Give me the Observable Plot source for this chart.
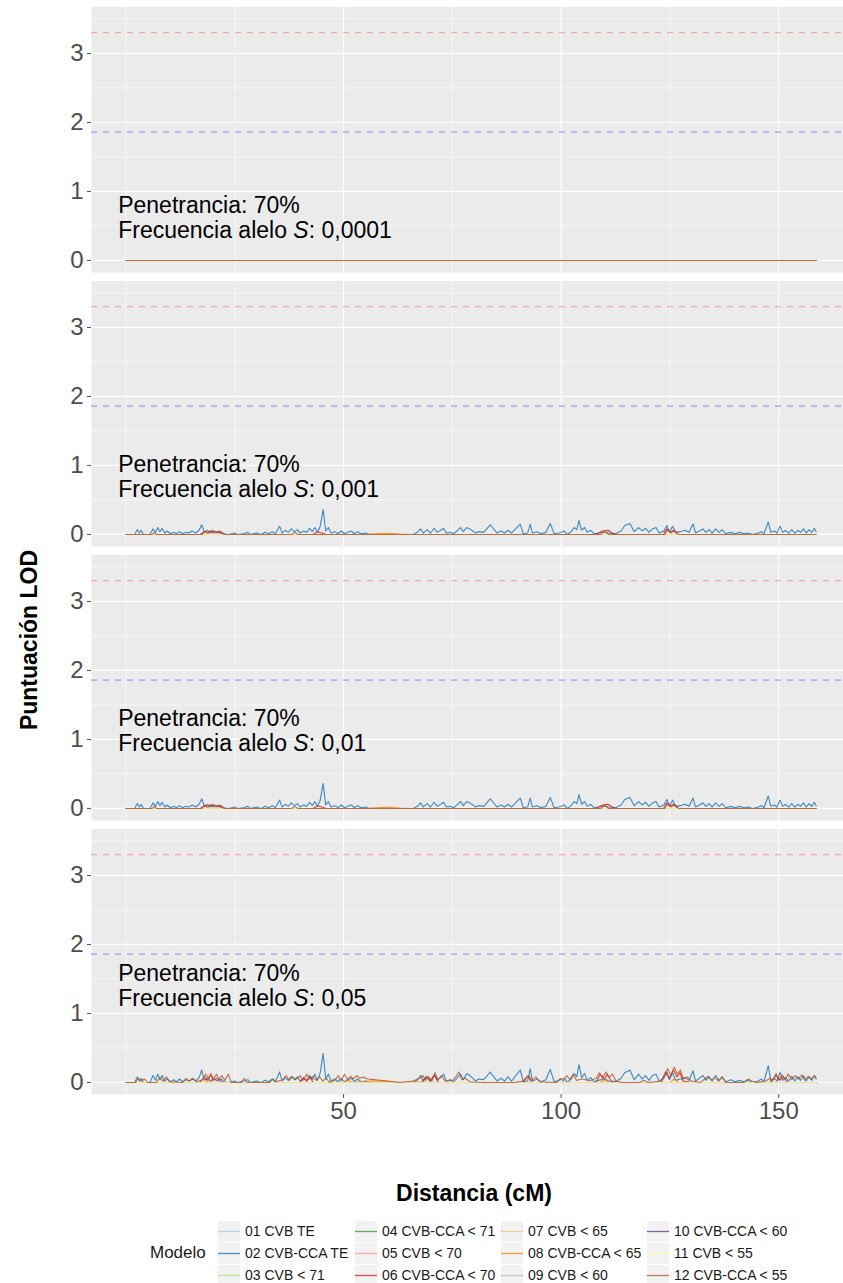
<!DOCTYPE html>
<html>
<head>
<meta charset="utf-8">
<script src="https://cdn.jsdelivr.net/npm/d3@7"></script>
<script src="https://cdn.jsdelivr.net/npm/@observablehq/plot@0.6"></script>
<style>
  html, body { margin: 0; padding: 0; background: #ffffff; }
  #chart { position: relative; width: 843px; height: 1283px; overflow: hidden;
           font-family: "Liberation Sans", Arial, Helvetica, sans-serif; }
  #chart > svg { position: absolute; left: 0; overflow: hidden; }
  .titulo-eje { position: absolute; font-weight: bold; font-size: 23px; color: #000; white-space: nowrap; }
  .leyenda-item { position: absolute; font-size: 14px; line-height: 16px; color: #1a1a1a; white-space: nowrap; }
  .leyenda-clave { position: absolute; width: 22px; height: 21px; }
</style>
</head>
<body>
<div id="chart"></div>
<script>
// Genetic-linkage scan: LOD score along the map (cM) for 12 classification models,
// one panel per frequency of allele S (penetrance 70%).

const modelos = [
  "01 CVB TE", "02 CVB-CCA TE", "03 CVB < 71", "04 CVB-CCA < 71",
  "05 CVB < 70", "06 CVB-CCA < 70", "07 CVB < 65", "08 CVB-CCA < 65",
  "09 CVB < 60", "10 CVB-CCA < 60", "11 CVB < 55", "12 CVB-CCA < 55"
];
const colores = [
  "#A6CEE3", "#1F78B4", "#B2DF8A", "#33A02C", "#FB9A99", "#E31A1C",
  "#FDBF6F", "#FF7F00", "#CAB2D6", "#6A3D9A", "#FFFF99", "#B15928"
];

const frecuencias = ["0,0001", "0,001", "0,01", "0,05"];
const penetrancia = "70%";

// Thresholds: suggestive and significant linkage
const umbralSugerido = 1.86;
const umbralSignificativo = 3.3;

const ticksLOD = [0, 1, 2, 3];
const ticksDistancia = [50, 100, 150];

// Models with no signal: LOD 0 from the first to the last marker
const sinSenal = [[0, 0], [158.6, 0]];

// [cM, LOD] — allele S frequency 0.001 (same profile at 0.01)
const lod02_001 = [[0,0],[2,0],[2.6,0.07],[3.1,0.02],[3.5,0.06],[4,0],[5.5,0],[6.2,0.08],[6.8,0.03],[7.3,0.1],[7.8,0.04],[8.3,0.09],[8.9,0.02],[9.5,0.05],[10.2,0.01],[11,0.03],[11.6,0.01],[12.3,0.04],[13,0.01],[13.8,0.03],[14.5,0.02],[15.2,0.05],[16,0.02],[16.8,0.06],[17.4,0.14],[18,0.03],[18.8,0.06],[19.5,0.02],[20.3,0.05],[21,0.02],[21.8,0.04],[22.5,0.01],[23.5,0],[25,0.02],[25.6,0],[27,0.01],[28,0.03],[28.6,0],[30,0.02],[31,0],[32,0.03],[32.8,0.01],[33.6,0.04],[34.3,0.01],[35.3,0.12],[35.9,0.02],[36.6,0.06],[37.3,0.03],[38,0.08],[38.7,0.04],[39.4,0.07],[40,0.02],[40.8,0.05],[41.5,0.03],[42.2,0.09],[42.8,0.04],[43.4,0.1],[44,0.03],[44.6,0.11],[45.3,0.36],[45.9,0.05],[46.5,0.1],[47.1,0.02],[48,0.04],[48.7,0.01],[49.5,0.05],[50.2,0.01],[51,0.03],[51.8,0.05],[52.5,0.01],[53.2,0.04],[54,0.01],[55,0.02],[56,0],[63,0],[66,0],[67,0.03],[67.7,0.08],[68.3,0.02],[69.2,0.07],[70,0.02],[70.8,0.09],[71.5,0.03],[72.3,0.06],[73,0.09],[73.6,0.02],[74.5,0.03],[75.3,0.01],[76.2,0.06],[76.9,0.1],[77.5,0.04],[78.3,0.1],[79,0.08],[79.7,0.05],[80.4,0.02],[81,0.04],[82.2,0.03],[83.7,0.14],[85.3,0.02],[86.2,0.05],[87,0.02],[87.8,0.06],[88.6,0.02],[90.6,0.15],[91.3,0.01],[92.3,0.02],[92.9,0.15],[93.4,0.02],[94.5,0.04],[95.3,0.01],[96.5,0.03],[97.5,0.16],[98.4,0.01],[99.5,0.02],[100.7,0.05],[101.4,0],[102.3,0.04],[103,0.1],[103.6,0.07],[104.1,0.2],[104.7,0.06],[105.4,0.1],[106,0.03],[106.8,0.06],[107.5,0.01],[108.5,0.02],[110,0.04],[111,0.02],[112.5,0.01],[113.8,0.05],[114.6,0.13],[115.8,0.16],[116.8,0.04],[117.8,0.1],[118.6,0.05],[119.4,0.09],[120.2,0.03],[121,0.08],[121.8,0.1],[122.5,0.02],[123.6,0.05],[124.3,0.13],[124.9,0.04],[125.6,0.12],[126.3,0.03],[127.4,0.04],[128.5,0.06],[129.4,0.03],[130.3,0.15],[130.9,0.02],[131.8,0.05],[132.6,0.08],[133.3,0.03],[134,0.07],[134.7,0.02],[135.5,0.08],[136.3,0.03],[137,0.07],[137.8,0.01],[139,0.03],[140,0.01],[141,0.03],[142,0.01],[143,0.02],[144,0],[145.3,0.02],[146,0.04],[146.6,0.01],[147.6,0.18],[148.2,0.03],[149,0.05],[149.6,0.02],[150.3,0.12],[150.9,0.03],[151.6,0.06],[152.3,0.02],[153,0.07],[153.7,0.02],[154.4,0.06],[155,0.03],[155.7,0.08],[156.3,0.02],[157,0.07],[157.6,0.03],[158.2,0.09],[158.6,0.04]];
const lod06_001 = [[0,0],[17,0],[18,0.04],[18.7,0.02],[19.4,0.05],[20.2,0.02],[21,0.04],[22,0.01],[23,0],[43,0],[44,0.04],[45,0.02],[46,0],[108,0],[109.5,0.05],[110.8,0.06],[112,0.01],[113,0],[123.5,0],[124.3,0.08],[125,0.03],[125.8,0.06],[126.8,0],[158.6,0]];
const lod08_001 = [[0,0],[55,0],[57,0.01],[60,0.015],[63,0.005],[66,0],[158.6,0]];
const lod12_001 = [[0,0],[6,0],[6.5,0.03],[7,0],[17.5,0],[18.2,0.05],[19,0.02],[19.8,0.06],[20.5,0.03],[21.5,0.05],[22.5,0],[38,0],[38.8,0.03],[39.5,0],[109,0],[110,0.04],[111,0],[123.8,0],[124.5,0.07],[125.3,0.02],[126.1,0.06],[127,0],[158.6,0]];

// [cM, LOD] — allele S frequency 0.05
const lod02_05 = [[0,0],[2,0],[2.6,0.08],[3.1,0.02],[3.5,0.06],[4,0],[5.5,0],[6.2,0.1],[6.8,0.03],[7.3,0.12],[7.8,0.04],[8.3,0.1],[8.9,0.02],[9.5,0.05],[10.2,0.01],[11,0.04],[11.6,0.01],[12.3,0.05],[13,0.01],[13.8,0.04],[14.5,0.02],[15.2,0.06],[16,0.02],[16.8,0.07],[17.4,0.18],[18,0.03],[18.8,0.07],[19.5,0.02],[20.3,0.06],[21,0.02],[21.8,0.05],[22.5,0.01],[23.5,0],[25,0.02],[25.6,0],[27,0.02],[28,0.04],[28.6,0],[30,0.02],[31,0],[32,0.03],[32.8,0.01],[33.6,0.05],[34.3,0.01],[35.3,0.15],[35.9,0.02],[36.6,0.07],[37.3,0.03],[38,0.09],[38.7,0.04],[39.4,0.08],[40,0.02],[40.8,0.06],[41.5,0.03],[42.2,0.1],[42.8,0.04],[43.4,0.12],[44,0.03],[44.6,0.13],[45.3,0.42],[45.9,0.05],[46.5,0.12],[47.1,0.02],[48,0.05],[48.7,0.01],[49.5,0.06],[50.2,0.01],[51,0.04],[51.8,0.06],[52.5,0.01],[53.2,0.05],[54,0.01],[55,0.02],[56,0],[63,0],[66,0],[67,0.04],[67.7,0.1],[68.3,0.02],[69.2,0.08],[70,0.02],[70.8,0.11],[71.5,0.03],[72.3,0.07],[73,0.12],[73.6,0.02],[74.5,0.04],[75.3,0.01],[76.2,0.07],[76.9,0.12],[77.5,0.04],[78.3,0.13],[79,0.1],[79.7,0.06],[80.4,0.02],[81,0.05],[82.2,0.04],[83.7,0.15],[85.3,0.02],[86.2,0.06],[87,0.02],[87.8,0.08],[88.6,0.02],[90.6,0.18],[91.3,0.01],[92.3,0.02],[92.9,0.2],[93.4,0.02],[94.5,0.05],[95.3,0.01],[96.5,0.04],[97.5,0.19],[98.4,0.01],[99.5,0.03],[100.7,0.06],[101.4,0],[102.3,0.05],[103,0.13],[103.6,0.08],[104.1,0.26],[104.7,0.07],[105.4,0.13],[106,0.03],[106.8,0.07],[107.5,0.01],[108.5,0.03],[110,0.05],[111,0.02],[112.5,0.01],[113.8,0.06],[114.6,0.14],[115.8,0.18],[116.8,0.04],[117.8,0.12],[118.6,0.05],[119.4,0.1],[120.2,0.03],[121,0.1],[121.8,0.12],[122.5,0.02],[123.6,0.06],[124.3,0.15],[124.9,0.04],[125.6,0.14],[126.3,0.03],[127.4,0.05],[128.5,0.07],[129.4,0.03],[130.3,0.17],[130.9,0.02],[131.8,0.06],[132.6,0.1],[133.3,0.03],[134,0.08],[134.7,0.02],[135.5,0.1],[136.3,0.03],[137,0.08],[137.8,0.01],[139,0.04],[140,0.01],[141,0.03],[142,0.01],[143,0.03],[144,0],[145.3,0.02],[146,0.05],[146.6,0.01],[147.6,0.24],[148.2,0.03],[149,0.06],[149.6,0.02],[150.3,0.15],[150.9,0.03],[151.6,0.07],[152.3,0.02],[153,0.09],[153.7,0.02],[154.4,0.08],[155,0.03],[155.7,0.1],[156.3,0.02],[157,0.08],[157.6,0.03],[158.2,0.1],[158.6,0.05]];
const lod06_05 = [[0,0],[17,0],[18,0.08],[18.7,0.03],[19.4,0.1],[20.2,0.03],[21,0.06],[22,0],[40,0],[40.8,0.07],[41.5,0.02],[42.3,0.08],[43,0],[68,0],[69,0.09],[69.8,0.02],[71,0.1],[71.8,0],[91,0],[92.4,0.1],[93.2,0],[108,0],[109,0.12],[110,0.05],[110.6,0.12],[111.5,0.02],[113,0],[123,0],[124,0.15],[124.8,0.06],[125.8,0.18],[126.6,0.08],[127.3,0.14],[128,0.02],[130,0],[148,0],[149.4,0.1],[150.2,0.03],[151,0.08],[152,0],[158.6,0]];
const lod08_05 = [[0,0],[18,0],[19,0.03],[20,0],[50,0],[51,0.03],[52,0],[56,0.02],[60,0.015],[63,0],[66,0.01],[70,0],[109,0],[110,0.04],[111,0],[125,0],[126,0.05],[127,0],[158.6,0]];
const lod12_05 = [[0,0],[2.2,0],[2.8,0.06],[3.4,0.02],[4.2,0.05],[5,0],[7,0],[7.8,0.07],[8.5,0.02],[9.3,0.08],[10,0.01],[13,0],[13.8,0.06],[14.5,0.02],[15.5,0.05],[16.3,0.01],[17.6,0.04],[18.3,0.12],[18.9,0.06],[19.5,0.13],[20.1,0.05],[20.8,0.12],[21.4,0.04],[22,0.1],[22.7,0.03],[23.5,0.12],[24.2,0],[26.5,0],[27.2,0.06],[27.8,0],[33,0],[33.8,0.05],[34.4,0.01],[36,0.04],[36.8,0.1],[37.5,0.03],[38.2,0.08],[39,0.04],[40,0.1],[40.7,0.03],[41.5,0.12],[42.2,0.05],[43,0.09],[43.7,0.03],[44.5,0.08],[45.2,0.02],[46,0.06],[46.8,0],[48,0.03],[48.8,0.1],[49.4,0.02],[50.2,0.12],[50.9,0.04],[51.6,0.09],[52.3,0.05],[53,0.1],[53.7,0.06],[54.5,0.08],[55.5,0.05],[57,0.04],[60,0.02],[63,0],[66,0.02],[67.5,0.06],[68.2,0.1],[68.8,0.03],[69.6,0.08],[70.3,0.02],[71,0.14],[71.7,0.04],[72.5,0.1],[73.3,0.02],[75,0.03],[75.8,0.08],[76.5,0.15],[77.2,0.04],[78,0.06],[79,0.01],[82,0],[89,0],[91.5,0.02],[92.5,0.1],[93.2,0.03],[94.2,0.08],[95,0.01],[99,0],[99.8,0.06],[100.5,0.02],[101.3,0.1],[102,0.04],[102.8,0.12],[103.5,0.03],[105,0.05],[106.5,0.02],[108,0.06],[108.8,0.14],[109.5,0.06],[110.3,0.15],[111,0.07],[111.8,0.12],[112.6,0.02],[114,0],[118,0],[119,0.03],[120,0],[123,0.02],[123.8,0.12],[124.5,0.2],[125.2,0.1],[126,0.22],[126.7,0.12],[127.4,0.18],[128.1,0.05],[129,0.08],[130,0.02],[132,0],[133,0.05],[133.8,0.09],[134.5,0.03],[135.3,0.07],[136.2,0.02],[137,0.08],[137.8,0],[142,0],[143,0.05],[143.8,0.02],[145,0],[147,0.02],[148,0.06],[148.6,0.02],[149.4,0.13],[150,0.04],[150.8,0.11],[151.5,0.05],[152.2,0.12],[153,0.04],[153.8,0.1],[154.5,0.05],[155.3,0.11],[156,0.03],[156.8,0.09],[157.5,0.05],[158.2,0.1],[158.6,0.06]];

// Series per panel, keyed by model index (0-based); models not listed have no signal
const seriesPorPanel = [
  {},
  {1: lod02_001, 5: lod06_001, 7: lod08_001, 11: lod12_001},
  {1: lod02_001, 5: lod06_001, 7: lod08_001, 11: lod12_001},
  {1: lod02_05, 5: lod06_05, 7: lod08_05, 11: lod12_05}
];

// ---- layout ----
const ancho = 843;
const altoPanel = 274;
const yTexto = [[0.80, 0.43], [1.01, 0.65], [1.30, 0.94], [1.58, 1.22]];
const fuente = '"Liberation Sans", Arial, Helvetica, sans-serif';
const NS = "http://www.w3.org/2000/svg";

const chart = document.getElementById("chart");

frecuencias.forEach((frec, i) => {
  const ultimo = i === frecuencias.length - 1;
  const alto = ultimo ? 330 : altoPanel;

  const filas = [];
  modelos.forEach((m, k) => {
    const serie = seriesPorPanel[i][k] || sinSenal;
    for (const [cM, lod] of serie) filas.push({modelo: m, cM, lod});
  });

  const textos = [
    {t: `Penetrancia: ${penetrancia}`, y: yTexto[i][0]},
    {t: `Frecuencia alelo S: ${frec}`, y: yTexto[i][1]}
  ];

  const svg = Plot.plot({
    width: ancho,
    height: alto,
    marginLeft: 91,
    marginRight: 0,
    marginTop: 6.4,
    marginBottom: alto - 272,
    style: {fontFamily: fuente, color: "#4D4D4D", background: "transparent"},
    x: {domain: [-7.93, 166.5], range: [91, 850], axis: ultimo ? undefined : null},
    y: {domain: [-0.175, 3.675]},
    color: {domain: modelos, range: colores},
    marks: [
      Plot.frame({fill: "#EBEBEB", stroke: null}),
      Plot.ruleY([0.5, 1.5, 2.5, 3.5], {stroke: "#fff", strokeWidth: 0.6}),
      Plot.ruleX([0, 25, 75, 125], {stroke: "#fff", strokeWidth: 0.6}),
      Plot.ruleY(ticksLOD, {stroke: "#fff", strokeWidth: 1.2}),
      Plot.ruleX(ticksDistancia, {stroke: "#fff", strokeWidth: 1.2}),
      Plot.ruleY([umbralSignificativo], {stroke: "#ff0000", strokeOpacity: 0.35, strokeWidth: 1.1, strokeDasharray: "6,6"}),
      Plot.ruleY([umbralSugerido], {stroke: "#0000ff", strokeOpacity: 0.35, strokeWidth: 1.1, strokeDasharray: "6,6"}),
      Plot.line(filas, {x: "cM", y: "lod", z: "modelo", stroke: "modelo", strokeWidth: 1.1, strokeOpacity: 0.85}),
      Plot.text(textos, {x: -1.8, y: "y", text: "t", textAnchor: "start", fontSize: 23, fill: "#000"}),
      Plot.axisY(ticksLOD, {tickSize: 4, tickPadding: 4, fontSize: 24, label: null, tickFormat: d3.format("d")}),
      ...(ultimo ? [Plot.axisX(ticksDistancia, {tickSize: 4, tickPadding: 3, fontSize: 24, label: null, tickFormat: d3.format("d")})] : [])
    ]
  });

  // italic allele name
  svg.querySelectorAll("text").forEach(el => {
    const s = el.textContent;
    if (s.startsWith("Frecuencia alelo S")) {
      el.textContent = "";
      const parts = [["Frecuencia alelo ", null], ["S", "italic"], [s.slice("Frecuencia alelo S".length), null]];
      for (const [txt, st] of parts) {
        const ts = document.createElementNS(NS, "tspan");
        if (st) ts.setAttribute("font-style", st);
        ts.textContent = txt;
        el.appendChild(ts);
      }
    }
  });

  svg.style.top = `${i * altoPanel}px`;
  chart.appendChild(svg);
});

// axis titles
const tituloY = document.createElement("div");
tituloY.className = "titulo-eje";
tituloY.textContent = "Puntuación LOD";
Object.assign(tituloY.style, {left: "29px", top: "640px", transform: "translate(-50%, -50%) rotate(-90deg)"});
chart.appendChild(tituloY);

const tituloX = document.createElement("div");
tituloX.className = "titulo-eje";
tituloX.textContent = "Distancia (cM)";
Object.assign(tituloX.style, {left: "474px", top: "1193px", transform: "translate(-50%, -50%)"});
chart.appendChild(tituloX);

// legend: 3 rows x 4 columns, filled by column
const tituloLeyenda = document.createElement("div");
tituloLeyenda.className = "leyenda-item";
tituloLeyenda.textContent = "Modelo";
Object.assign(tituloLeyenda.style, {left: "150px", top: "1253px", fontSize: "17px", lineHeight: "20px", transform: "translate(0, -50%)"});
chart.appendChild(tituloLeyenda);

const colX = [218, 355, 501, 647];
const filaY = [1231, 1253, 1275];
modelos.forEach((m, k) => {
  const c = Math.floor(k / 3), r = k % 3;
  const clave = document.createElementNS(NS, "svg");
  clave.setAttribute("class", "leyenda-clave");
  clave.setAttribute("width", 22);
  clave.setAttribute("height", 21);
  Object.assign(clave.style, {left: `${colX[c]}px`, top: `${filaY[r] - 10}px`});
  const fondo = document.createElementNS(NS, "rect");
  fondo.setAttribute("width", 22);
  fondo.setAttribute("height", 21);
  fondo.setAttribute("fill", "#f2f2f2");
  const linea = document.createElementNS(NS, "line");
  linea.setAttribute("x1", 0); linea.setAttribute("x2", 22);
  linea.setAttribute("y1", 10.5); linea.setAttribute("y2", 10.5);
  linea.setAttribute("stroke", colores[k]);
  linea.setAttribute("stroke-opacity", 0.8);
  linea.setAttribute("stroke-width", 1.3);
  clave.append(fondo, linea);
  chart.appendChild(clave);

  const etiqueta = document.createElement("div");
  etiqueta.className = "leyenda-item";
  etiqueta.textContent = m;
  Object.assign(etiqueta.style, {left: `${colX[c] + 27}px`, top: `${filaY[r]}px`, transform: "translate(0, -50%)"});
  chart.appendChild(etiqueta);
});
</script>
</body>
</html>
